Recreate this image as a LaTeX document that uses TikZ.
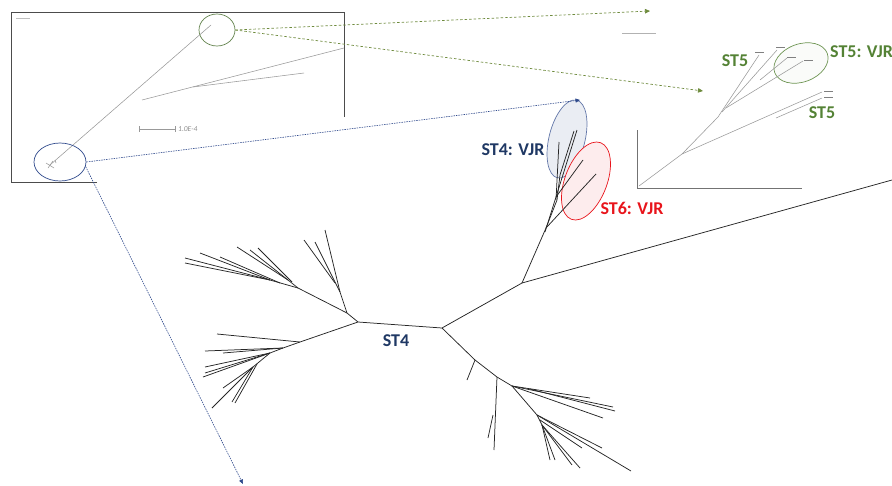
\documentclass[tikz,border=0pt]{standalone}
\usepackage{fontspec}
\setmainfont{Carlito}
\usetikzlibrary{shapes.geometric,arrows.meta}
\definecolor{navy}{HTML}{1F3864}
\definecolor{stgreen}{HTML}{548235}
\definecolor{stred}{HTML}{E8141B}
\definecolor{dblue}{HTML}{2F4A8C}
\definecolor{dgreen}{HTML}{6E8B3D}
\begin{document}
\begin{tikzpicture}[x=1pt,y=-1pt,
  tree/.style={black!85,line width=0.75pt},
  gtree/.style={black!40,line width=0.55pt},
  tiplbl/.style={black!50,line width=0.6pt},
  lbl/.style={font=\fontsize{18}{20}\selectfont\bfseries,inner sep=0},
  bluedash/.style={dblue,line width=0.6pt,dash pattern=on 1.5pt off 1pt,-{Triangle[length=4.5pt,width=4pt]}},
  greendash/.style={dgreen,line width=0.7pt,dash pattern=on 2.5pt off 2pt,-{Triangle[length=5pt,width=4.5pt]}},
  ell/.style={ellipse,inner sep=0,line width=0.7pt},
]
\useasboundingbox (0,0) rectangle (892,485);

% ---------- left inset (overview tree) ----------
\draw[black!70,line width=0.8pt] (97,182) -- (11,182) -- (11,12) -- (344,12) -- (344,117);
\draw[gtree] (50,165) -- (211,25);
\draw[gtree] (142,100) -- (344,48);
\draw[gtree] (193,87) -- (304,73);
\draw[gtree] (46,163) -- (54,168) (48,168) -- (53,161) (55,160) -- (56,163);
\draw[gtree] (139,126) -- (139,132) (139,129) -- (175,129) (175,126) -- (175,132);
\node[anchor=west,inner sep=0,text=black!45,font=\fontsize{7.5}{8}\selectfont\itshape] (scl) at (178,129.5) {1.0E-4};
\draw[black!25,line width=0.4pt] (16,18) -- (30,18);

\node[ell,draw=stgreen!70!gray,minimum width=36pt,minimum height=32pt] (gE) at (217,30) {};
\node[ell,draw=dblue,minimum width=52pt,minimum height=38pt] (bE) at (60,162) {};

% ---------- right inset (ST5 tree) ----------
\draw[black!30,line width=0.5pt] (622,33) -- (656,33);
\draw[black!55,line width=0.8pt] (637,130) -- (637,188) -- (802,188);
\node[ell,draw=stgreen!85,fill=stgreen!3,minimum width=56pt,minimum height=38pt,rotate=20] (gE2) at (801,63) {};
\draw[gtree] (639,186) -- (682,154) -- (718,117) -- (759,55);
\draw[gtree] (722,112) -- (777,50);
\draw[gtree] (726,108) -- (803,61);
\draw[gtree] (760,80) -- (787,58);
\draw[gtree] (682,154) -- (822,92);
\draw[gtree] (776,118) -- (822,98);
\draw[tiplbl] (755,52) -- (764,52) (776,47) -- (785,47) (787,57) -- (796,57) (804,60) -- (813,60) (824,91) -- (833,91) (824,97) -- (833,97);

% ---------- main tree ----------
\node[ell,draw=dblue!75,fill=dblue!10,minimum width=36pt,minimum height=80pt,rotate=-14] (bE2) at (567,139) {};
\node[ell,draw=stred,fill=stred!8,minimum width=42pt,minimum height=82pt,rotate=-21] (rE) at (586,181) {};

\draw[tree] (522,283) -- (546,228) -- (557,200) -- (560,175) -- (574,131);
\draw[tree] (545,232) -- (577,130);
\draw[tree] (559,142) -- (556,200);
\draw[tree] (546,228) -- (596,174);
\draw[tree] (556,197) -- (583,160);
\draw[tree] (522,283) -- (892,180);
\draw[tree] (522,283) -- (442,328) -- (358,322);
% upper left
\draw[tree] (358,322) -- (347,313) -- (340,292) -- (325,230);
\draw[tree] (340,292) -- (315,242);
\draw[tree] (335,283) -- (304,240);
\draw[tree] (347,313) -- (298,288) -- (270,280) -- (185,258);
\draw[tree] (270,280) -- (185,263);
\draw[tree] (270,280) -- (200,253);
\draw[tree] (280,283) -- (220,257);
\draw[tree] (298,288) -- (288,280) -- (237,247);
\draw[tree] (288,280) -- (250,250);
\draw[tree] (292,282) -- (258,248);
% lower left
\draw[tree] (358,322) -- (300,342) -- (217,334);
\draw[tree] (300,342) -- (283,348) -- (205,351);
\draw[tree] (283,348) -- (223,353);
\draw[tree] (283,348) -- (270,353) -- (205,367);
\draw[tree] (270,353) -- (205,373);
\draw[tree] (270,353) -- (203,377);
\draw[tree] (270,353) -- (253,367) -- (212,408);
\draw[tree] (253,367) -- (223,388);
\draw[tree] (253,367) -- (232,402);
\draw[tree] (257,364) -- (235,403);
% lower right
\draw[tree] (442,328) -- (475,360) -- (497,377) -- (512,386);
\draw[tree] (475,360) -- (467,380);
\draw[tree] (497,377) -- (494,450);
\draw[tree] (493,415) -- (488,438);
\draw[tree] (512,386) -- (590,398);
\draw[tree] (512,386) -- (613,407);
\draw[tree] (530,389) -- (615,411);
\draw[tree] (512,386) -- (603,418);
\draw[tree] (512,386) -- (537,415) -- (631,471);
\draw[tree] (537,415) -- (542,425) -- (580,468);
\draw[tree] (542,425) -- (572,465);
\draw[tree] (542,425) -- (555,460);
\draw[tree] (542,425) -- (550,460);
\draw[tree] (537,415) -- (602,448);
\draw[tree] (540,420) -- (582,448);

% ---------- dashed connectors ----------
\coordinate (gT1) at (650,11);
\coordinate (gT2) at (703,91);
\coordinate (bT1) at (580,100);
\coordinate (bT2) at (243,484);
\draw[greendash] (gE.east) -- (gT1);
\draw[greendash] (gE.east) -- (gT2);
\draw[bluedash] (bE.east) -- (bT1);
\draw[bluedash] (bE.-10) -- (bT2);

% ---------- labels ----------
\node[lbl,text=navy] (l1) at (513,150) {ST4: VJR};
\node[lbl,text=stred] (l2) at (632,208) {ST6: VJR};
\node[lbl,text=navy] (l3) at (396,341) {ST4};
\node[lbl,text=stgreen] (l4) at (735,61) {ST5};
\node[lbl,text=stgreen,anchor=west] (l5) at (830,52) {ST5: VJR};
\node[lbl,text=stgreen] (l6) at (822,113) {ST5};
\end{tikzpicture}
\end{document}
